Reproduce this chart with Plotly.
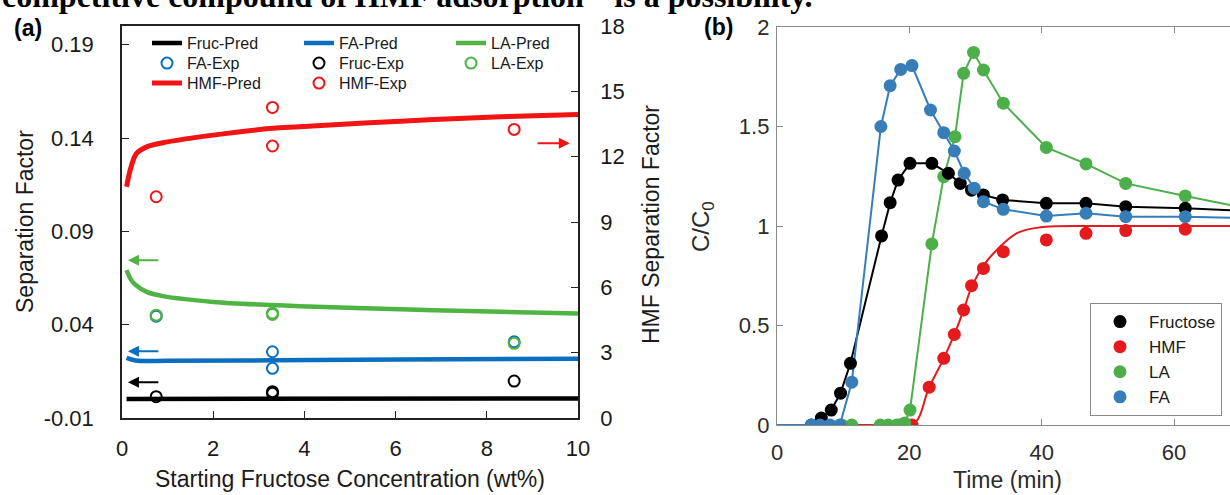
import plotly.graph_objects as go

W, H = 1230, 495

# ---------------- Panel (a) data ----------------
fruc_pred_x = [0.1, 10.0]
fruc_pred_y = [0.0002, 0.0005]
fa_pred_x = [0.1, 0.3, 1.0, 3.3, 6.1, 10.0]
fa_pred_y = [0.0222, 0.0208, 0.0207, 0.0209, 0.0213, 0.0218]
la_pred_x = [0.1, 0.2, 0.3, 0.54, 0.9, 2.0, 3.3, 3.9, 6.1, 8.3, 10.0]
la_pred_y = [0.0692, 0.0640, 0.0612, 0.0576, 0.0553, 0.0522, 0.0505, 0.0499, 0.0482, 0.0469, 0.0460]
hmf_pred_x = [0.1, 0.2, 0.32, 0.54, 1.0, 2.0, 3.3, 3.9, 6.1, 8.3, 10.0]
hmf_pred_y = [10.62, 11.54, 12.15, 12.45, 12.68, 12.99, 13.30, 13.37, 13.63, 13.83, 13.94]

exp_x = [0.75, 3.3, 3.3, 8.6]
fa_exp_y = [0.0445, 0.0255, 0.0166, 0.0308]
fruc_exp_y = [0.0014, 0.0041, 0.0032, 0.0098]
la_exp_y = [0.0451, 0.0455, 0.0462, 0.0300]
hmf_exp_y = [10.16, 14.26, 12.49, 13.25]

# arrows (tail x, head x, level)
arrow_left_tail, arrow_left_head = 0.83, 0.13
la_arrow_y, fa_arrow_y, fruc_arrow_y = 0.0745, 0.0258, 0.0092
hmf_arrow_tail, hmf_arrow_head, hmf_arrow_y = 9.08, 9.82, 12.62

# ---------------- Panel (b) data ----------------
fru_t = [5.2, 6.7, 8.2, 9.6, 11.1, 15.8, 17.1, 18.3, 20.1, 23.4, 25.9, 27.7, 29.4, 31.2, 34.1, 40.7, 46.7, 52.7, 61.7]
fru_c = [0.0, 0.035, 0.075, 0.16, 0.31, 0.95, 1.117, 1.231, 1.315, 1.315, 1.265, 1.214, 1.18, 1.156, 1.131, 1.114, 1.114, 1.097, 1.089]
fa_t = [5.2, 6.5, 8.0, 9.5, 11.3, 15.7, 17.1, 18.7, 20.4, 23.2, 25.2, 26.8, 28.3, 29.8, 31.2, 34.2, 40.7, 46.7, 52.7, 61.7]
fa_c = [0.0, 0.0, 0.0, 0.0, 0.215, 1.50, 1.705, 1.787, 1.806, 1.583, 1.469, 1.377, 1.265, 1.19, 1.122, 1.084, 1.050, 1.064, 1.047, 1.047]
la_t = [9.8, 11.3, 15.6, 16.8, 18.1, 19.3, 20.1, 23.4, 25.2, 26.9, 28.2, 29.7, 31.2, 34.2, 40.7, 46.7, 52.7, 61.7]
la_c = [0.0, 0.0, 0.0, 0.0, 0.0, 0.01, 0.075, 0.91, 1.248, 1.449, 1.767, 1.872, 1.784, 1.617, 1.395, 1.312, 1.214, 1.151]
hmf_t = [18.6, 20.4, 23.0, 25.2, 26.8, 28.2, 29.4, 31.2, 34.2, 40.7, 46.7, 52.7, 61.7]
hmf_c = [0.0, 0.0, 0.19, 0.335, 0.455, 0.578, 0.70, 0.787, 0.871, 0.93, 0.963, 0.977, 0.984]

# line ends (t = 0 start, right edge end)
line_start_t, line_end_t = 0.0, 70.0
fru_end_c, fa_end_c, la_end_c = 1.077, 1.040, 1.095
hmf_model_t = [0.0, 13.6, 20.5, 23.0, 25.2, 26.8, 28.2, 29.5, 31.4, 33.7, 36.2, 38.7, 41.3, 50.0, 70.0]
hmf_model_c = [0.0, 0.0, 0.0, 0.19, 0.335, 0.455, 0.578, 0.70, 0.81, 0.896, 0.963, 0.988, 0.998, 1.0, 1.0]

# ---------------- colours / fonts ----------------
A_BLACK, A_BLUE, A_GREEN, A_RED = "#000000", "#0a6fc0", "#4fb443", "#f01414"
B_BLACK, B_RED, B_GREEN, B_BLUE = "#000000", "#e41a1c", "#4daf4a", "#377eb8"
FONT = "Liberation Sans, Arial, sans-serif"
TXT = "#1a1a1a"

fig = go.Figure()

# Panel (a) prediction lines
fig.add_trace(go.Scatter(x=fruc_pred_x, y=fruc_pred_y, mode="lines", name="Fruc-Pred",
                         line=dict(color=A_BLACK, width=4.5), legend="legend", legendrank=1))
fig.add_trace(go.Scatter(x=fa_pred_x, y=fa_pred_y, mode="lines", name="FA-Pred",
                         line=dict(color=A_BLUE, width=4.5, shape="spline"), legend="legend", legendrank=2))
fig.add_trace(go.Scatter(x=la_pred_x, y=la_pred_y, mode="lines", name="LA-Pred",
                         line=dict(color=A_GREEN, width=4.5, shape="spline"), legend="legend", legendrank=3))
# experiments
fig.add_trace(go.Scatter(x=exp_x, y=fa_exp_y, mode="markers", name="FA-Exp",
                         marker=dict(symbol="circle-open", size=11, color=A_BLUE, line=dict(width=2)),
                         legend="legend2", legendrank=1))
fig.add_trace(go.Scatter(x=exp_x, y=fruc_exp_y, mode="markers", name="Fruc-Exp",
                         marker=dict(symbol="circle-open", size=11, color=A_BLACK, line=dict(width=2)),
                         legend="legend2", legendrank=2))
fig.add_trace(go.Scatter(x=exp_x, y=la_exp_y, mode="markers", name="LA-Exp",
                         marker=dict(symbol="circle-open", size=11, color=A_GREEN, line=dict(width=2)),
                         legend="legend2", legendrank=3))
fig.add_trace(go.Scatter(x=hmf_pred_x, y=hmf_pred_y, mode="lines", name="HMF-Pred", yaxis="y2",
                         line=dict(color=A_RED, width=5, shape="spline"), legend="legend3", legendrank=1))
fig.add_trace(go.Scatter(x=exp_x, y=hmf_exp_y, mode="markers", name="HMF-Exp", yaxis="y2",
                         marker=dict(symbol="circle-open", size=11, color=A_RED, line=dict(width=2)),
                         legend="legend3", legendrank=2))

# Panel (b) lines
def bline(t, c, color, shape="linear"):
    fig.add_trace(go.Scatter(x=t, y=c, mode="lines", xaxis="x2", yaxis="y3", showlegend=False,
                             line=dict(color=color, width=2, shape=shape), hoverinfo="skip"))

bline([line_start_t] + la_t + [line_end_t], [0.0] + la_c + [la_end_c], B_GREEN)
bline(hmf_model_t, hmf_model_c, B_RED, "spline")
bline([line_start_t] + fru_t + [line_end_t], [0.0] + fru_c + [fru_end_c], B_BLACK)
bline([line_start_t] + fa_t + [line_end_t], [0.0] + fa_c + [fa_end_c], B_BLUE)

def bmark(t, c, color, name, rank):
    fig.add_trace(go.Scatter(x=t, y=c, mode="markers", xaxis="x2", yaxis="y3", name=name,
                             marker=dict(size=13, color=color), legend="legend4", legendrank=rank))

bmark(hmf_t, hmf_c, B_RED, "HMF", 2)
bmark(la_t, la_c, B_GREEN, "LA", 3)
bmark(fru_t, fru_c, B_BLACK, "Fructose", 1)
bmark(fa_t, fa_c, B_BLUE, "FA", 4)

def px(xp):
    return xp / W

def py(yp):
    return 1 - yp / H

axis_a = dict(showgrid=False, zeroline=False, showline=True, linecolor="#222222", linewidth=1.5,
              ticks="inside", ticklen=7, tickwidth=1.2, tickcolor="#222222",
              tickfont=dict(family=FONT, size=22, color=TXT))
axis_b = dict(showgrid=False, zeroline=False, showline=True, linecolor="#8a8a8a", linewidth=1.3,
              ticks="inside", ticklen=6, tickwidth=1.1, tickcolor="#8a8a8a",
              tickfont=dict(family=FONT, size=22, color="#2b2b2b"))

leg_a = dict(font=dict(family=FONT, size=16, color=TXT), bgcolor="rgba(0,0,0,0)", borderwidth=0,
             xanchor="left", yanchor="top", orientation="h", itemwidth=30,
             entrywidth=107, entrywidthmode="pixels")

fig.update_layout(
    width=W, height=H, margin=dict(l=0, r=0, t=0, b=0, autoexpand=False),
    paper_bgcolor="white", plot_bgcolor="white",
    xaxis=dict(axis_a, domain=[px(122), px(578)], range=[0, 10], tickvals=[0, 2, 4, 6, 8, 10],
               mirror=True, anchor="y", ticklabelstandoff=10),
    yaxis=dict(axis_a, domain=[py(418), py(26)], range=[-0.01, 0.2],
               tickvals=[-0.01, 0.04, 0.09, 0.14, 0.19],
               ticktext=["-0.01", "0.04", "0.09", "0.14", "0.19"], anchor="x", ticklabelstandoff=22),
    yaxis2=dict(axis_a, overlaying="y", side="right", range=[0, 18], tickvals=[0, 3, 6, 9, 12, 15, 18],
                anchor="x", ticklabelstandoff=16),
    xaxis2=dict(axis_b, domain=[px(777), 1.0], range=[0, 68.46], tickvals=[0, 20, 40, 60],
                mirror="ticks", anchor="y3", ticklabelstandoff=7),
    yaxis3=dict(axis_b, domain=[py(425), py(27)], range=[0, 2], tickvals=[0, 0.5, 1, 1.5, 2],
                ticktext=["0", "0.5", "1", "1.5", "2"], anchor="x2", ticklabelstandoff=2),
    legend=dict(leg_a, x=px(147), y=py(26.2)),
    legend2=dict(leg_a, x=px(147), y=py(46.2)),
    legend3=dict(leg_a, x=px(147), y=py(66.2)),
    legend4=dict(font=dict(family=FONT, size=17, color="#1a1a1a"), bgcolor="white",
                 bordercolor="#8a8a8a", borderwidth=1, xanchor="left", yanchor="top",
                 x=px(1090), y=py(303), itemwidth=48),
    showlegend=True,
)

ann = []
def text(x, y, s, size, angle=0, bold=False, family=FONT, color=TXT):
    ann.append(dict(x=px(x), y=py(y), xref="paper", yref="paper", text=("<b>%s</b>" % s) if bold else s,
                    showarrow=False, textangle=angle, font=dict(family=family, size=size, color=color),
                    xanchor="center", yanchor="middle"))

text(350, 479, "Starting Fructose Concentration (wt%)", 23)
text(25, 222, "Separation Factor", 23, -90)
text(651, 225, "HMF Separation Factor", 23, -90)
text(1007, 480, "Time (min)", 23, color="#2b2b2b")
text(702, 226, "C/C<sub>0</sub>", 24, -90, color="#2b2b2b")
text(28, 28, "(a)", 23, bold=True, color="#000000")
text(718, 27, "(b)", 23, bold=True, color="#000000")
ann.append(dict(x=0, y=py(-6), xref="paper", yref="paper", xanchor="left", yanchor="middle",
                text="<b>competitive compound of HMF adsorption<sup>49</sup> is a possibility.</b>",
                showarrow=False, font=dict(family="Liberation Serif, Times New Roman, serif", size=32,
                                           color="#000000")))

def arrow(tail, head, yv, color, yref):
    ann.append(dict(x=head, y=yv, ax=tail, ay=yv, xref="x", yref=yref, axref="x", ayref=yref,
                    showarrow=True, arrowhead=2, arrowsize=1.1, arrowwidth=2, arrowcolor=color, text=""))

arrow(arrow_left_tail, arrow_left_head, la_arrow_y, A_GREEN, "y")
arrow(arrow_left_tail, arrow_left_head, fa_arrow_y, A_BLUE, "y")
arrow(arrow_left_tail, arrow_left_head, fruc_arrow_y, A_BLACK, "y")
arrow(hmf_arrow_tail, hmf_arrow_head, hmf_arrow_y, A_RED, "y2")

fig.update_layout(annotations=ann)
fig.write_html("out.html")
